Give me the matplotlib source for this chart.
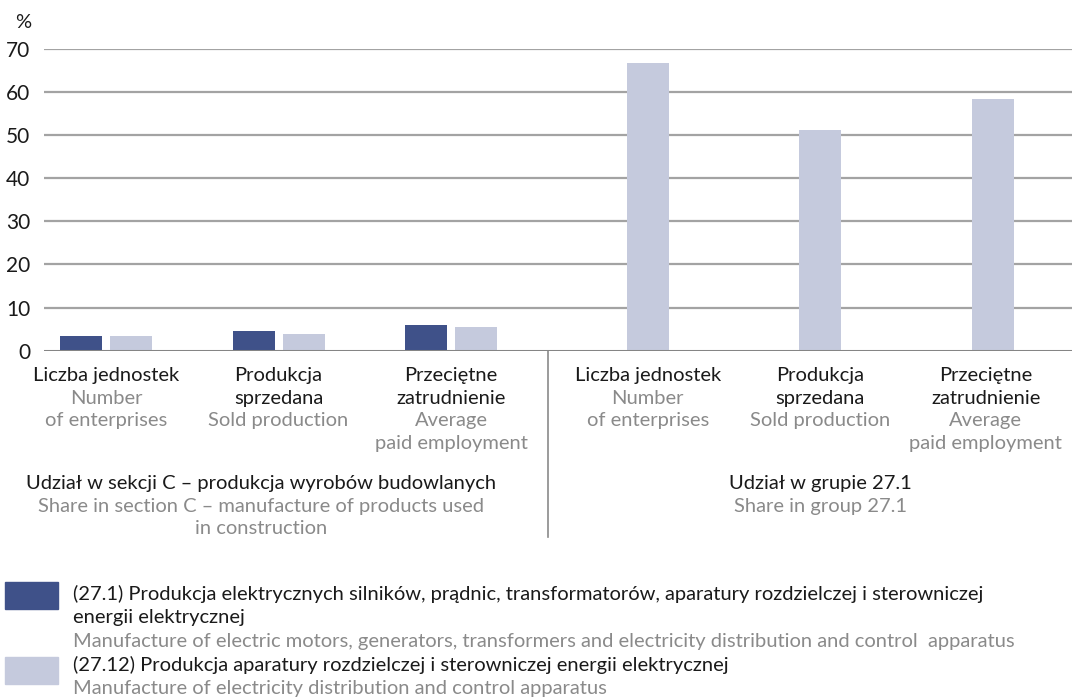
import matplotlib
matplotlib.use("Agg")
import matplotlib.pyplot as plt
from matplotlib.patches import Rectangle
from matplotlib.transforms import blended_transform_factory

plt.rcParams['font.family'] = ['Lato', 'DejaVu Sans']

# dane
dzial_271 = [3.4, 4.6, 6.0]            # udział w sekcji C, grupa 27.1
klasa_2712_c = [3.4, 3.9, 5.5]         # udział w sekcji C, klasa 27.12
klasa_2712_grupa = [66.7, 51.2, 58.3]  # udział w grupie 27.1, klasa 27.12

kat_pl = [["Liczba jednostek"], ["Produkcja", "sprzedana"], ["Przeciętne", "zatrudnienie"]]
kat_en = [["Number", "of enterprises"], ["Sold production"], ["Average", "paid employment"]]

sekcja_pl = [["Udział w sekcji C – produkcja wyrobów budowlanych"], ["Udział w grupie 27.1"]]
sekcja_en = [["Share in section C – manufacture of products used", "in construction"],
             ["Share in group 27.1"]]

legenda_pl = [["(27.1) Produkcja elektrycznych silników, prądnic, transformatorów, aparatury rozdzielczej i sterowniczej",
               "energii elektrycznej"],
              ["(27.12) Produkcja aparatury rozdzielczej i sterowniczej energii elektrycznej"]]
legenda_en = [["Manufacture of electric motors, generators, transformers and electricity distribution and control  apparatus"],
              ["Manufacture of electricity distribution and control apparatus"]]

CIEMNY = '#3F5189'
JASNY = '#C5CADD'
CZARNY = '#1a1a1a'
SZARY = '#8a8a8a'
FS = 14.5

W, H = 1072, 697
fig = plt.figure(figsize=(W / 100, H / 100), dpi=100)
ax = fig.add_axes([44 / W, 1 - 350.7 / H, 1 - 44 / W, (350.7 - 48.7) / H])

lewe = [0, 1, 2]
prawe = [3.14, 4.14, 5.14]
szer = 0.243
off = 0.145

ax.bar([x - off for x in lewe], dzial_271, width=szer, color=CIEMNY, zorder=3)
ax.bar([x + off for x in lewe], klasa_2712_c, width=szer, color=JASNY, zorder=3)
ax.bar(prawe, klasa_2712_grupa, width=szer, color=JASNY, zorder=3)

ax.set_xlim(-0.36, 5.6)
ax.set_ylim(0, 70)
for s in ax.spines.values():
    s.set_visible(False)
for v in range(10, 80, 10):
    ax.axhline(v, color='#a3a3a3', lw=1.6, zorder=1)
ax.axhline(0, color='#858585', lw=2.2, zorder=4)
ax.set_yticks(range(0, 80, 10))
ax.tick_params(axis='y', length=0, pad=10, labelsize=FS + 0.5, colors=CZARNY)
ax.set_xticks([])
fig.text(23 / W, 1 - 23 / H, '%', fontsize=FS, color=CZARNY, ha='center', va='center')

tr = blended_transform_factory(ax.transData, fig.transFigure)

def linie(x, y0, pl, en, krok=22.7):
    y = y0
    for t in pl:
        ax.text(x, 1 - y / H, t, transform=tr, ha='center', va='baseline',
                fontsize=FS, color=CZARNY, clip_on=False)
        y += krok
    for t in en:
        ax.text(x, 1 - y / H, t, transform=tr, ha='center', va='baseline',
                fontsize=FS, color=SZARY, clip_on=False)
        y += krok

for i in range(3):
    linie(lewe[i], 381, kat_pl[i], kat_en[i])
    linie(prawe[i] - (0.04 if i == 2 else 0), 381, kat_pl[i], kat_en[i])

linie(0.9, 489, sekcja_pl[0], sekcja_en[0])
linie(prawe[1], 489, sekcja_pl[1], sekcja_en[1])

# linia oddzielająca
ax.plot([2.56, 2.56], [1 - 351 / H, 1 - 537 / H], transform=tr, color='#8a8a8a',
        lw=1.2, clip_on=False)

# legenda
y = 600
for kolor, pl, en, (r0, r1) in zip([CIEMNY, JASNY], legenda_pl, legenda_en, [(582, 609), (657, 684)]):
    fig.patches.append(Rectangle((5 / W, 1 - r1 / H), 53 / W, (r1 - r0) / H,
                                 transform=fig.transFigure, color=kolor))
    for t in pl:
        fig.text(73 / W, 1 - y / H, t, fontsize=FS, color=CZARNY, va='baseline')
        y += 23.5
    for t in en:
        fig.text(73 / W, 1 - y / H, t, fontsize=FS, color=SZARY, va='baseline')
        y += 23.5

fig.savefig('out.png', dpi=100)
